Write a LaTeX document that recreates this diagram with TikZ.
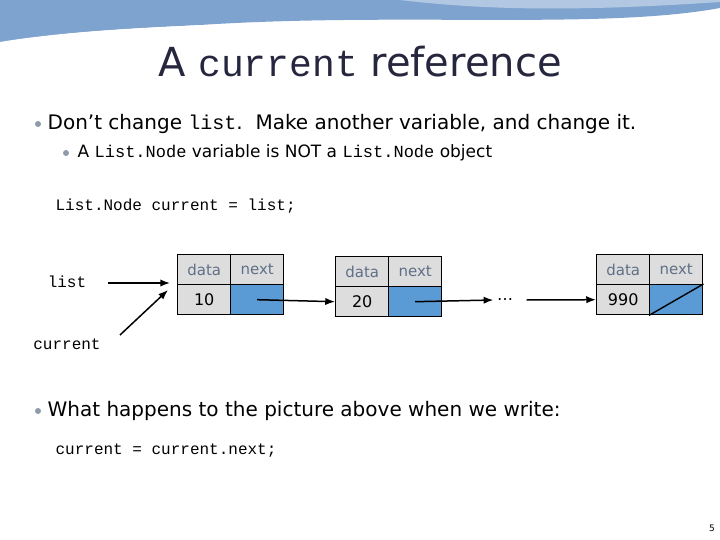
\documentclass[tikz,border=0pt]{standalone}
\usepackage{fontspec}
\setmainfont{DejaVu Sans}
\setmonofont{Liberation Mono}
\usetikzlibrary{arrows.meta}
\definecolor{navy}{HTML}{26263F}
\definecolor{cellgray}{HTML}{DDDDDD}
\definecolor{cellblue}{HTML}{5B9BD5}
\definecolor{labgray}{HTML}{5F6F87}
\definecolor{swoosh}{HTML}{7FA3CF}

\begin{document}
\begin{tikzpicture}[%
        x = 1pt, y = -1pt,
        line width = 0.6pt,
        > = Latex,
        cell/.style = {draw, line width = 1.4pt, fill = cellgray, minimum width = 53pt,
            minimum height = 30pt, inner sep = 0pt, anchor = north west},
        ptr/.style = {draw, line width = 1.4pt, fill = cellblue, minimum width = 53pt,
            minimum height = 30pt, inner sep = 0pt, anchor = north west},
        head/.style = {font = \fontsize{15}{15}\selectfont, text = labgray},
        val/.style = {font = \fontsize{16}{16}\selectfont},
        code/.style = {font = \ttfamily\fontsize{16}{16}\selectfont, anchor = west},
        bul/.style = {font = \fontsize{20}{20}\selectfont, anchor = west},
        link/.style = {->, line width = 1.5pt}
    ]
        \useasboundingbox (0, 0) rectangle (720, 540);

        % Header swoosh.
        \fill[swoosh] (0, 0) -- (720, 0) -- (720, 8)
            .. controls (600, 30) and (400, 12) .. (200, 25)
            .. controls (100, 30) and (30, 35) .. (0, 45) -- cycle;
        \fill[white] (0, 42) .. controls (120, 22) and (350, 20) .. (560, 22)
            .. controls (640, 20) and (700, 14) .. (720, 10) -- (720, 14)
            .. controls (600, 30) and (300, 28) .. (0, 48) -- cycle;
        \fill[swoosh!60] (400, 0) .. controls (500, 12) and (600, 10) .. (720, 2) -- (720, 0) -- cycle;

        % Title.
        \node[text = navy, font = \fontsize{40}{40}\selectfont] (title) at (360, 62)
            {A \texttt{\fontsize{38}{38}\selectfont current} reference};

        % Bullets.
        \foreach \bx/\by in {38/124, 66/153, 38/411}
            \fill[labgray!70] (\bx, \by) circle (3pt);
        \node[bul] (b1) at (44, 124)
            {Don't change \texttt{list}.\ \ Make another variable, and change it.};
        \node[anchor = west, font = \fontsize{17}{17}\selectfont] (b2) at (74, 153)
            {A \texttt{List.Node} variable is NOT a \texttt{List.Node} object};
        \node[code] (c1) at (52, 206) {List.Node current = list;};
        \node[bul] (b3) at (44, 411) {What happens to the picture above when we write:};
        \node[code] (c2) at (52, 451) {current = current.next;};
        \node[font = \small] (pg) at (712, 528) {5};

        % Variables.
        \node[code, anchor = center] (list) at (67, 282) {list};
        \node[code, anchor = center] (current) at (67, 344) {current};

        % List nodes.
        \foreach \n/\x/\y/\v in {one/177/254/10, two/335/256/20, three/596/254/990} {
            \node[cell] (\n h1) at (\x, \y) {};
            \node[cell] (\n h2) at (\x + 53, \y) {};
            \node[cell] (\n d) at (\x, \y + 30) {};
            \node[ptr] (\n p) at (\x + 53, \y + 30) {};
            \node[head] at (\n h1) {data};
            \node[head] at (\n h2) {next};
            \node[val] at (\n d) {\v};
        }
        \draw[line width = 1.4pt] (threep.south west) -- (threep.north east);
        \node[val] (dots) at (505, 300) {\dots};

        % Links.
        \coordinate (lfrom) at (108, 283);
        \coordinate (lto) at (170, 283);
        \coordinate (cfrom) at (120, 335);
        \coordinate (cto) at (168, 290);
        \draw[link] (lfrom) -- (lto);
        \draw[link] (cfrom) -- (cto);
        \draw[link] (onep.center) -- (twod.west);
        \draw[link] (twop.center) -- (dots.west);
        \draw[link] (dots.east) ++(10, 0) -- (threed.west);
\end{tikzpicture}
\end{document}
